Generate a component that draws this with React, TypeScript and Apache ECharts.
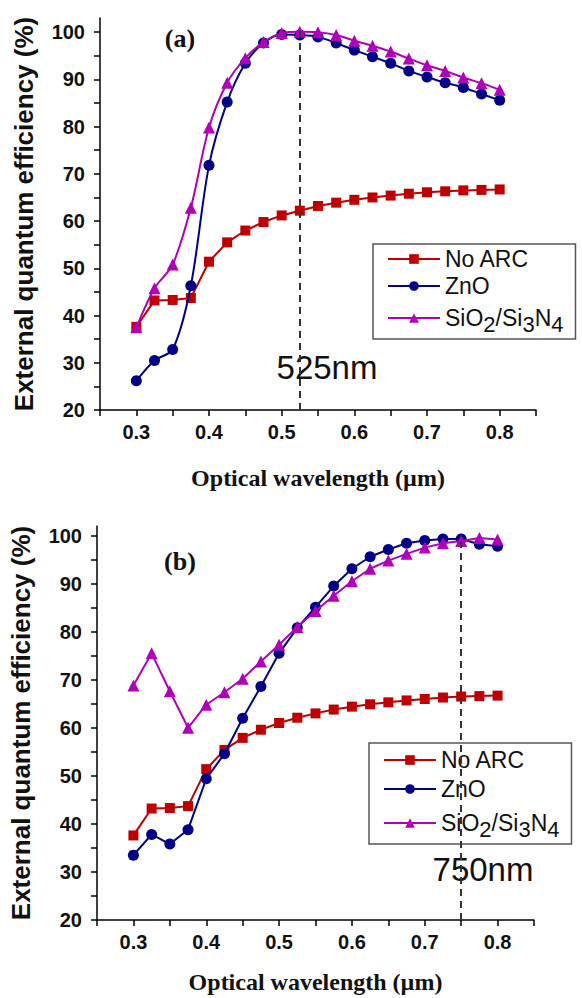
import React, { useEffect, useRef } from 'react';
import * as echarts from 'echarts';

// ---------- data ----------
const wavelength = [0.3, 0.325, 0.35, 0.375, 0.4, 0.425, 0.45, 0.475, 0.5, 0.525, 0.55, 0.575, 0.6, 0.625, 0.65, 0.675, 0.7, 0.725, 0.75, 0.775, 0.8];

// panel (a)
const noArcA = [37.6, 43.2, 43.3, 43.7, 51.4, 55.5, 58.0, 59.8, 61.2, 62.2, 63.2, 63.9, 64.5, 65.0, 65.4, 65.8, 66.1, 66.3, 66.5, 66.6, 66.7];
const znoA = [26.2, 30.5, 32.8, 46.3, 71.8, 85.2, 93.4, 97.7, 99.5, 99.4, 99.0, 97.7, 96.2, 94.8, 93.4, 91.8, 90.5, 89.3, 88.3, 86.9, 85.6];
const sinA = [37.5, 45.8, 50.8, 62.8, 79.8, 89.3, 94.5, 97.9, 99.8, 100.1, 100.0, 99.4, 98.2, 97.1, 95.9, 94.4, 93.0, 91.8, 90.4, 89.2, 87.8];

// panel (b)
const noArcB = [37.6, 43.2, 43.3, 43.7, 51.4, 55.4, 57.9, 59.6, 61.0, 62.1, 63.0, 63.8, 64.4, 64.9, 65.3, 65.7, 66.0, 66.3, 66.5, 66.6, 66.7];
const znoB = [33.5, 37.8, 35.8, 38.8, 49.4, 54.6, 62.0, 68.6, 75.5, 80.8, 85.1, 89.5, 93.1, 95.6, 97.1, 98.4, 99.0, 99.3, 99.3, 98.2, 97.8];
const sinB = [68.8, 75.5, 67.6, 60.0, 64.8, 67.4, 70.2, 73.8, 77.3, 81.0, 84.3, 87.5, 90.5, 93.1, 94.8, 96.2, 97.5, 98.4, 98.9, 99.5, 99.2];

const seriesNames = ['No ARC', 'ZnO', 'SiO2/Si3N4'];
const peakA = 0.525;
const peakB = 0.75;
const peakLabelA = '525nm';
const peakLabelB = '750nm';
const panelLabels = ['(a)', '(b)'];

const xTickValues = [0.25, 0.3, 0.35, 0.4, 0.45, 0.5, 0.55, 0.6, 0.65, 0.7, 0.75, 0.8, 0.85];
const xLabelValues = [0.3, 0.4, 0.5, 0.6, 0.7, 0.8];
const yTickValues = [20, 25, 30, 35, 40, 45, 50, 55, 60, 65, 70, 75, 80, 85, 90, 95, 100];
const yLabelValues = [20, 30, 40, 50, 60, 70, 80, 90, 100];

const xTitle = 'Optical wavelength (µm)';
const yTitle = 'External quantum efficiency (%)';

// ---------- styles ----------
const SANS = 'Liberation Sans, Arial, sans-serif';
const SERIF = 'Liberation Serif, Times New Roman, serif';
const RED = '#C00000';
const BLUE = '#000088';
const MAG = '#B000B8';

const pairs = (ys: number[]) => wavelength.map((w, i) => [w, ys[i]]);

function xAxisCfg(gridIndex: number, nameGap: number) {
  return {
    type: 'value',
    gridIndex,
    min: 0.25,
    max: 0.85,
    interval: 0.05,
    name: xTitle,
    nameLocation: 'middle',
    nameGap,
    nameTextStyle: { fontFamily: SERIF, fontWeight: 'bold', fontSize: 24, color: '#111' },
    axisLine: { onZero: false, lineStyle: { color: '#000', width: 1.5 } },
    axisTick: { show: true, inside: false, length: 6, customValues: xTickValues, lineStyle: { color: '#000', width: 1.5 } },
    axisLabel: {
      customValues: xLabelValues,
      formatter: (v: number) => v.toFixed(1),
      margin: 12,
      fontFamily: SANS,
      fontWeight: 'bold',
      fontSize: 20,
      color: '#111',
    },
    splitLine: { show: false },
  };
}

function yAxisCfg(gridIndex: number, max: number) {
  return {
    type: 'value',
    gridIndex,
    min: 20,
    max,
    interval: 10,
    name: yTitle,
    nameLocation: 'middle',
    nameGap: 63,
    nameTextStyle: { fontFamily: SANS, fontWeight: 'bold', fontSize: 26, color: '#111' },
    axisLine: { show: true, onZero: false, lineStyle: { color: '#000', width: 1.5 } },
    axisTick: { show: true, inside: false, length: 6, customValues: yTickValues, lineStyle: { color: '#000', width: 1.5 } },
    axisLabel: {
      customValues: yLabelValues,
      margin: 15,
      fontFamily: SANS,
      fontWeight: 'bold',
      fontSize: 20,
      color: '#111',
    },
    splitLine: { show: false },
  };
}

function legendCfg(left: number, top: number, gap: number, pad: number[]) {
  return {
    orient: 'vertical',
    left,
    top,
    data: seriesNames,
    itemWidth: 52,
    itemHeight: 12,
    itemGap: gap,
    padding: pad,
    borderColor: '#555',
    borderWidth: 1.5,
    backgroundColor: '#fff',
    selectedMode: false,
    formatter: (name: string) =>
      name === 'SiO2/Si3N4' ? '{n|SiO}{s|2}{n|/Si}{s|3}{n|N}{s|4}' : name,
    textStyle: {
      fontFamily: SANS,
      fontSize: 23,
      lineHeight: 24,
      color: '#111',
      rich: {
        n: { fontFamily: SANS, fontSize: 23, lineHeight: 34, verticalAlign: 'middle', color: '#111' },
        s: { fontFamily: SANS, fontSize: 22, lineHeight: 14, verticalAlign: 'bottom', color: '#111' },
      },
    },
  };
}

function lineSeries(name: string, data: number[][], idx: number, color: string, symbol: string, size: number, smooth: boolean | number, z: number) {
  return {
    type: 'line',
    name,
    xAxisIndex: idx,
    yAxisIndex: idx,
    data,
    symbol,
    symbolSize: size,
    smooth,
    z,
    lineStyle: { color, width: 2 },
    itemStyle: { color },
  };
}

function markLineCfg(x: number, yTop: number) {
  return {
    silent: true,
    symbol: ['none', 'none'],
    label: { show: false },
    lineStyle: { color: '#333', type: [7, 5], width: 2 },
    data: [[{ coord: [x, 20] }, { coord: [x, yTop] }]],
  };
}

export default function App() {
  const ref = useRef<HTMLDivElement>(null);

  useEffect(() => {
    if (!ref.current) return;
    const chart = echarts.init(ref.current, undefined, { renderer: 'svg' });

    const redA: any = lineSeries(seriesNames[0], pairs(noArcA), 0, RED, 'rect', 10, false, 2);
    redA.markLine = markLineCfg(peakA, 100.8);
    const redB: any = lineSeries(seriesNames[0], pairs(noArcB), 1, RED, 'rect', 10, false, 2);
    redB.markLine = markLineCfg(peakB, 100);

    const option: any = {
      animation: false,
      backgroundColor: '#fff',
      grid: [
        { left: 100, top: 18, width: 436, height: 392 },
        { left: 97, top: 526, width: 437, height: 394 },
      ],
      xAxis: [xAxisCfg(0, 56), xAxisCfg(1, 50)],
      yAxis: [yAxisCfg(0, 103), yAxisCfg(1, 102)],
      legend: [
        legendCfg(373, 244, 3, [3, 12, 4, 14]),
        legendCfg(369, 743, 5, [5, 12, 4, 14]),
      ],
      series: [
        redA,
        lineSeries(seriesNames[1], pairs(znoA), 0, BLUE, 'circle', 11, 0.3, 3),
        lineSeries(seriesNames[2], pairs(sinA), 0, MAG, 'triangle', 12, 0.3, 4),
        redB,
        lineSeries(seriesNames[1], pairs(znoB), 1, BLUE, 'circle', 11, false, 3),
        lineSeries(seriesNames[2], pairs(sinB), 1, MAG, 'triangle', 12, false, 4),
      ],
      graphic: [
        { type: 'text', x: 180, y: 38, style: { text: panelLabels[0], font: `bold 26px ${SERIF}`, fill: '#111', textAlign: 'center', textVerticalAlign: 'middle' } },
        { type: 'text', x: 180, y: 561, style: { text: panelLabels[1], font: `bold 26px ${SERIF}`, fill: '#111', textAlign: 'center', textVerticalAlign: 'middle' } },
        { type: 'text', x: 327, y: 367, z: 1, style: { text: peakLabelA, font: `33px ${SANS}`, fill: '#111', textAlign: 'center', textVerticalAlign: 'middle' } },
        { type: 'text', x: 483, y: 869, z: 1, style: { text: peakLabelB, font: `33px ${SANS}`, fill: '#111', textAlign: 'center', textVerticalAlign: 'middle' } },
      ],
    };

    chart.setOption(option);
    return () => chart.dispose();
  }, []);

  return (
    <div
      ref={ref}
      style={{ position: 'fixed', left: 0, top: 0, width: 582, height: 998, background: '#fff' }}
    />
  );
}
